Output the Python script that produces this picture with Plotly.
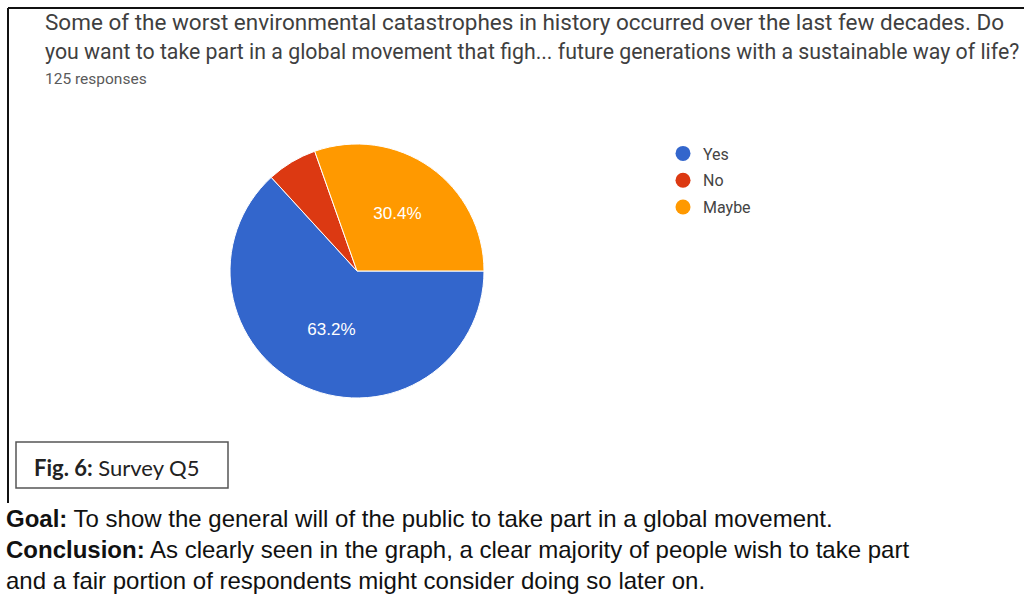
import plotly.graph_objects as go

# ---- data ----
categories = ["Yes", "No", "Maybe"]
responses = [79, 8, 38]          # 63.2 %, 6.4 %, 30.4 % of 125
slice_labels = ["%{percent:.1%}", "", "%{percent:.1%}"]
colors = ["#3366cc", "#dc3912", "#ff9900"]

title_line1 = "Some of the worst environmental catastrophes in history occurred over the last few decades. Do"
title_line2 = "you want to take part in a global movement that figh... future generations with a sustainable way of life?"
subtitle = "125 responses"
fig_caption = "<b>Fig. 6:</b> Survey Q5"
body_lines = [
    "<b>Goal:</b> To show the general will of the public to take part in a global movement.",
    "<b>Conclusion:</b> As clearly seen in the graph, a clear majority of people wish to take part",
    "and a fair portion of respondents might consider doing so later on.",
]

W, H = 1024, 599
def px(x):
    return x / W
def py(y):
    return 1 - y / H

fig = go.Figure()

cx, cy, r = 357, 271, 127
fig.add_trace(go.Pie(
    labels=categories,
    values=responses,
    marker=dict(colors=colors, line=dict(color="white", width=1)),
    texttemplate=slice_labels,
    textposition="inside",
    insidetextorientation="horizontal",
    textfont=dict(color="white", size=17, family="Arial"),
    sort=False,
    direction="clockwise",
    rotation=90,
    showlegend=False,
    hoverinfo="label+percent",
    domain=dict(x=[px(cx - r), px(cx + r)], y=[py(cy + r), py(cy - r)]),
))

for name, col in zip(categories, colors):
    fig.add_trace(go.Scatter(
        x=[None], y=[None], mode="markers", name=name, legendgroup=name,
        marker=dict(color=col, size=15, symbol="circle"),
        showlegend=True,
    ))

annotations = [
    dict(text=title_line1, x=px(43), y=py(22), font=dict(family="Roboto", size=22.5, color="#3f3f3f")),
    dict(text=title_line2, x=px(43), y=py(52), font=dict(family="Roboto", size=21.3, color="#3f3f3f")),
    dict(text=subtitle, x=px(43), y=py(79), font=dict(family="Roboto", size=15.5, color="#5a5a5a")),
    dict(text=fig_caption, x=px(32), y=py(467), font=dict(family="Lato", size=22, color="#222222")),
    dict(text="<br>".join(body_lines), x=px(4), y=py(549), align="left",
         font=dict(family="Liberation Sans", size=24, color="#111111")),
]
for a in annotations:
    a.update(xref="paper", yref="paper", xanchor="left", yanchor="middle", showarrow=False)

shapes = [
    # frame of the screenshot
    dict(type="line", x0=px(8), x1=px(1024), y0=py(8), y1=py(8), line=dict(color="#111111", width=2)),
    dict(type="line", x0=px(8), x1=px(8), y0=py(8), y1=py(503), line=dict(color="#111111", width=2)),
    # caption box
    dict(type="rect", x0=px(16), x1=px(228), y0=py(442), y1=py(488),
         line=dict(color="#555555", width=1.5), fillcolor="white"),
]
for s in shapes:
    s.update(xref="paper", yref="paper")

fig.update_layout(
    width=W, height=H,
    margin=dict(l=0, r=0, t=0, b=0),
    paper_bgcolor="white", plot_bgcolor="white",
    xaxis=dict(visible=False), yaxis=dict(visible=False),
    legend=dict(x=px(663), y=py(136.5), xanchor="left", yanchor="top",
                font=dict(family="Roboto", size=16, color="#444444"),
                bgcolor="rgba(0,0,0,0)", itemsizing="trace",
                traceorder="grouped", tracegroupgap=3),
    annotations=annotations,
    shapes=shapes,
)

fig.write_html("out.html")
